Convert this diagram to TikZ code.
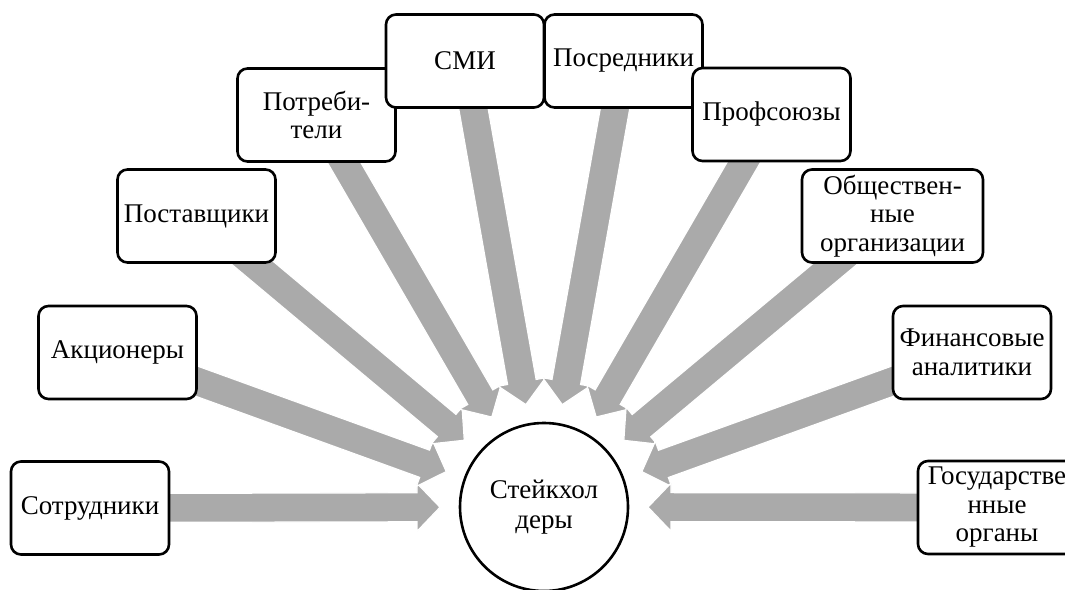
\documentclass[tikz,border=0pt]{standalone}
\usepackage{fontspec}
\setmainfont{Liberation Serif}
\usetikzlibrary{calc,backgrounds}
\definecolor{arrgray}{RGB}{170,170,170}
\tikzset{
  box/.style={draw=black, line width=2.6pt, rounded corners=10pt, fill=white,
    minimum width=158pt, minimum height=93pt, align=center, inner sep=0pt,
    font=\fontsize{27}{28.5}\selectfont},
  hub/.style={circle, draw=black, line width=2.6pt, fill=white, minimum size=168pt,
    align=center, inner sep=0pt, font=\fontsize{27}{30}\selectfont},
  blockarrow/.style={fill=arrgray, draw=white, line width=1.2pt, line join=miter}
}
\newcommand\barrow[1]{%
  \coordinate (#1-t) at ($(hub.center)!104pt!(#1.center)$);
  \coordinate (#1-h) at ($(hub.center)!127pt!(#1.center)$);
  \filldraw[blockarrow]
    ($(#1.center)!14.5pt!90:(hub.center)$) --
    ($(#1-h)!14.5pt!90:(hub.center)$) --
    ($(#1-h)!24pt!90:(hub.center)$) --
    (#1-t) --
    ($(#1-h)!24pt!-90:(hub.center)$) --
    ($(#1-h)!14.5pt!-90:(hub.center)$) --
    ($(#1.center)!14.5pt!-90:(hub.center)$) -- cycle;
}
\begin{document}
\begin{tikzpicture}[x=1pt,y=-1pt]
\useasboundingbox (0,0) rectangle (1065,589);
\node[hub] (hub) at (544,507) {Стейкхол\\деры};
\node[box] (sotr) at (90,508) {Сотрудники};
\node[box] (akc) at (117.5,352.5) {Акционеры};
\node[box] (post) at (196.5,216) {Поставщики};
\node[box] (potr) at (316.5,115) {Потреби-\\тели};
\node[box] (smi) at (465,61) {СМИ};
\node[box] (posr) at (623.5,61) {Посредники};
\node[box] (prof) at (771.5,114.5) {Профсоюзы};
\node[box, minimum width=181pt] (obsh) at (892.5,216) {Обществен-\\ные\\организации};
\node[box] (fin) at (972,352.5) {Финансовые\\аналитики};
\node[box] (gos) at (997,507.5) {Государстве\\нные\\органы};
\begin{scope}[on background layer]
\barrow{sotr}
\barrow{akc}
\barrow{post}
\barrow{potr}
\barrow{smi}
\barrow{posr}
\barrow{prof}
\barrow{obsh}
\barrow{fin}
\barrow{gos}
\end{scope}
\end{tikzpicture}
\end{document}
